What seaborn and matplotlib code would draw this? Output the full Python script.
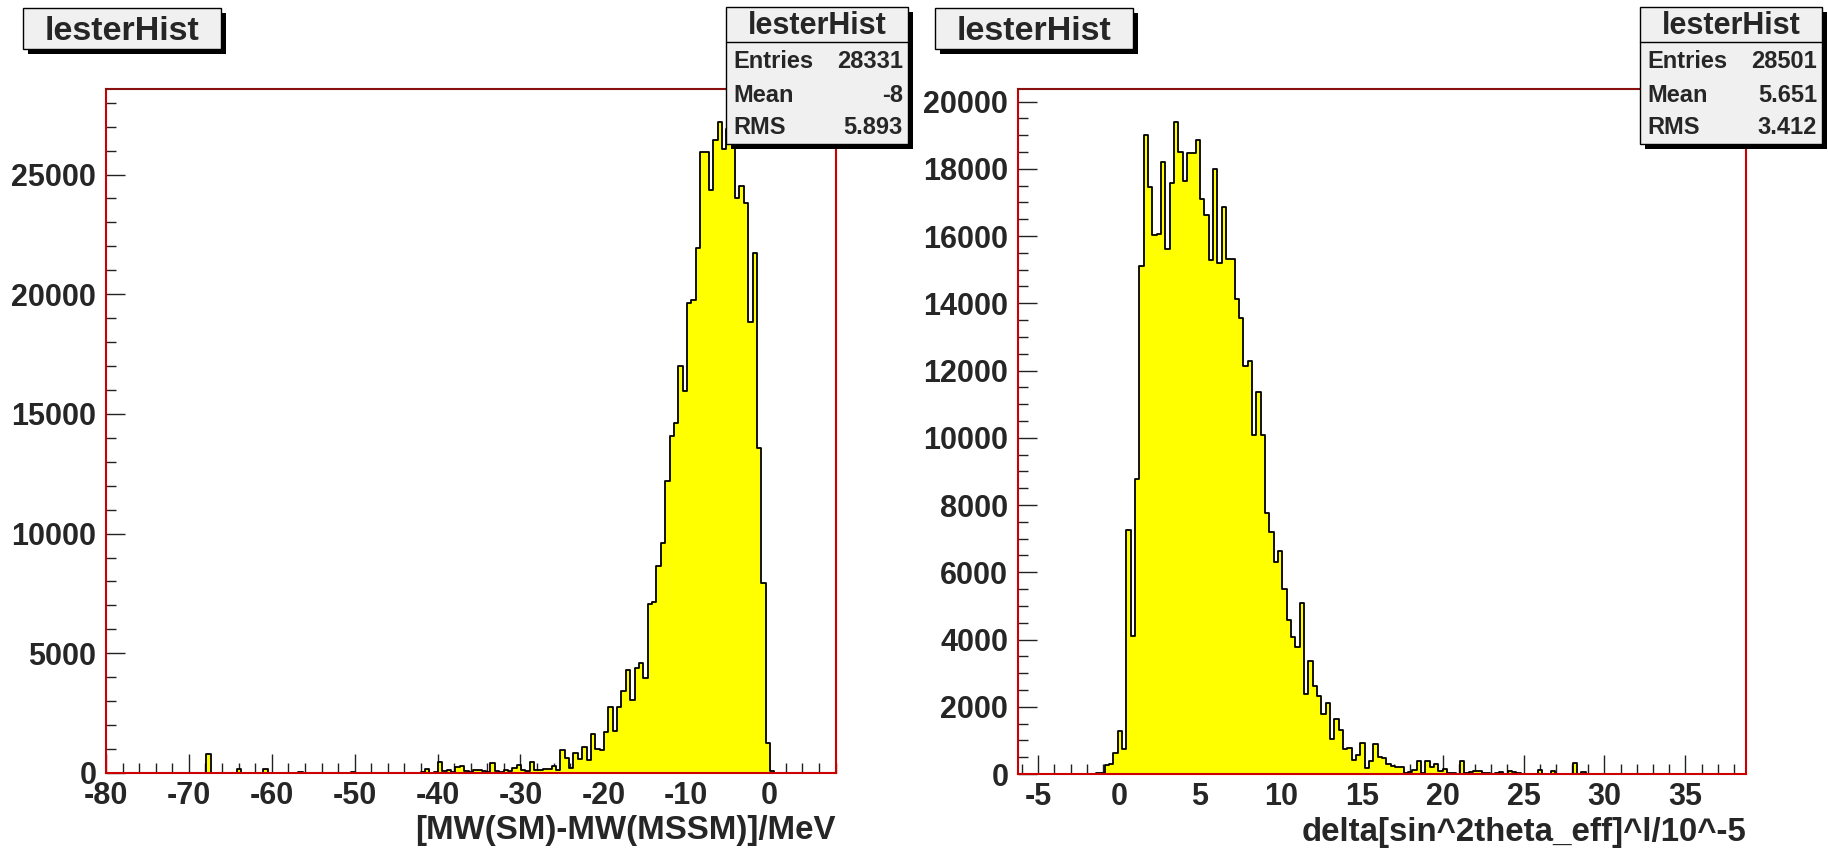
import numpy as np
import pandas as pd
import matplotlib
matplotlib.use("Agg")
import matplotlib.pyplot as plt
import seaborn as sns
from matplotlib.patches import Rectangle
from matplotlib.lines import Line2D
from matplotlib.ticker import MultipleLocator

# ---------------------------------------------------------------- data
# Histogram 1: [MW(SM)-MW(MSSM)]/MeV, 167 equal bins on [-80, 8]
mw_range = (-80.0, 8.0)
mw_counts = [
    0, 0, 0, 0, 0, 0, 0, 0, 0, 0,
    0, 0, 0, 0, 0, 0, 0, 0, 0, 0,
    0, 0, 0, 780, 0, 0, 0, 0, 0, 0,
    170, 0, 0, 0, 0, 0, 150, 0, 0, 0,
    0, 0, 0, 0, 60, 0, 0, 0, 0, 0,
    0, 0, 0, 0, 0, 20, 60, 0, 0, 0,
    0, 0, 15, 0, 0, 0, 0, 0, 0, 0,
    0, 0, 60, 150, 20, 30, 460, 67, 109, 25,
    250, 279, 67, 25, 139, 139, 84, 25, 418, 67,
    40, 109, 67, 209, 348, 139, 67, 460, 109, 109,
    153, 153, 306, 139, 961, 641, 196, 822, 585, 1073,
    543, 1617, 1003, 961, 1728, 2745, 1769, 2745, 3441, 4305,
    3051, 4376, 4611, 3958, 7064, 7161, 8666, 9627, 12206, 14058,
    14617, 16985, 15968, 19633, 19743, 21932, 25930, 25958, 24341, 26431,
    27212, 26083, 26900, 26500, 24022, 24537, 23813, 18839, 21723, 13572,
    7955, 1241, 84, 0, 0, 0, 0, 0, 0, 0,
    0, 0, 0, 0, 0, 0, 0,
]
mw_stats = [("Entries", "28331"), ("Mean", "-8"), ("RMS", "5.893")]
mw_xlabel = "[MW(SM)-MW(MSSM)]/MeV"

# Histogram 2: delta[sin^2theta_eff]^l/10^-5, 168 equal bins on [-6.25, 38.75]
s2w_range = (-6.25, 38.75)
s2w_counts = [
    0, 0, 0, 0, 0, 0, 0, 0, 0, 0,
    0, 0, 0, 0, 0, 0, 0, 0, 20, 40,
    268, 298, 615, 1290, 734, 7261, 4107, 8779, 15098, 19017,
    17450, 16030, 16070, 18193, 15614, 17578, 19404, 18511, 17628, 18481,
    18461, 18868, 17112, 16636, 15277, 17995, 15197, 16854, 15327, 15327,
    14136, 13551, 12122, 12271, 10089, 11348, 10089, 7777, 7202, 6300,
    6636, 5496, 4583, 4077, 3789, 5099, 2370, 3355, 2615, 2317,
    1790, 2100, 1032, 1622, 1305, 745, 760, 420, 575, 915,
    190, 380, 880, 520, 480, 310, 238, 208, 208, 30,
    60, 109, 400, 40, 380, 220, 290, 100, 140, 40,
    20, 0, 390, 20, 60, 80, 90, 40, 20, 0,
    20, 50, 0, 80, 70, 30, 0, 0, 0, 0,
    130, 0, 0, 90, 0, 0, 0, 0, 340, 0,
    50, 0, 0, 0, 0, 0, 0, 0, 0, 0,
    0, 0, 0, 0, 0, 0, 0, 0, 0, 0,
    0, 0, 0, 0, 0, 0, 0, 0, 0, 0,
    0, 0, 0, 0, 0, 0, 0, 0,
]
s2w_stats = [("Entries", "28501"), ("Mean", "5.651"), ("RMS", "3.412")]
s2w_xlabel = "delta[sin^2theta_eff]^l/10^-5"

hist_name = "lesterHist"

# ---------------------------------------------------------------- style
sns.set_theme(style="white")
plt.rcParams["font.family"] = ["Liberation Sans", "DejaVu Sans"]
plt.rcParams["font.weight"] = "bold"
plt.rcParams["axes.unicode_minus"] = False

W, H = 1828, 848
fig = plt.figure(figsize=(W / 100, H / 100), dpi=100)
fig.patch.set_facecolor("white")


def fx(x):
    return x / W


def fy(y):
    return 1 - y / H


FRAME_RED = "#cc0000"
BOX_FILL = "#f0f0f0"


def draw_hist(ax, rng, counts, xlabel, xmajor, xminor, ymajor, yminor):
    counts = np.asarray(counts, dtype=float)
    edges = np.linspace(rng[0], rng[1], len(counts) + 1)
    centers = 0.5 * (edges[:-1] + edges[1:])
    df = pd.DataFrame({"x": centers, "w": counts})
    sns.histplot(data=df, x="x", weights="w", bins=edges.tolist(),
                 element="step", fill=True, color="#ffff00", alpha=1,
                 edgecolor="black", linewidth=1.3, ax=ax)
    ax.set_xlim(rng)
    ax.set_ylim(0, 1.05 * counts.max())
    ax.set_ylabel("")
    ax.set_xlabel(xlabel, loc="right", fontsize=23.8, fontweight="bold",
                  labelpad=3)
    ax.xaxis.set_major_locator(MultipleLocator(xmajor))
    ax.xaxis.set_minor_locator(MultipleLocator(xminor))
    ax.yaxis.set_major_locator(MultipleLocator(ymajor))
    ax.yaxis.set_minor_locator(MultipleLocator(yminor))
    ax.tick_params(axis="both", which="major", direction="in", length=14,
                   width=1.0, color="#222222", labelsize=22)
    ax.tick_params(axis="both", which="minor", direction="in", length=7,
                   width=1.0, color="#222222")
    ax.tick_params(axis="x", which="major", pad=6)
    ax.tick_params(axis="y", which="major", pad=7)
    ax.tick_params(top=False, right=False, which="both")
    ax.tick_params(bottom=True, left=True, which="both")
    for lab in ax.get_xticklabels() + ax.get_yticklabels():
        lab.set_fontweight("bold")
    for s in ax.spines.values():
        s.set_color(FRAME_RED)
        s.set_linewidth(1.5)
    ax.spines["top"].set_color("#8a1010")
    ax.grid(False)
    ax.set_facecolor("white")


def draw_box(x0, y0, x1, y1, shadow=5):
    fig.add_artist(Rectangle((fx(x0 + shadow), fy(y1 + shadow)),
                             fx(x1 - x0), fy(y0) - fy(y1),
                             transform=fig.transFigure, facecolor="black",
                             edgecolor="none", zorder=5))
    fig.add_artist(Rectangle((fx(x0), fy(y1)), fx(x1 - x0), fy(y0) - fy(y1),
                             transform=fig.transFigure, facecolor=BOX_FILL,
                             edgecolor="black", linewidth=1.0, zorder=6))


def draw_title(x0, y0, x1, y1, text):
    draw_box(x0, y0, x1, y1)
    fig.text(fx((x0 + x1) / 2), fy((y0 + y1) / 2 + 3), text, ha="center",
             va="center", fontsize=24.5, fontweight="bold", zorder=7)


def draw_stats(x0, y0, x1, y1, name, rows, sep_y, row_y):
    draw_box(x0, y0, x1, y1)
    fig.add_artist(Line2D([fx(x0), fx(x1)], [fy(sep_y), fy(sep_y)],
                          transform=fig.transFigure, color="black",
                          linewidth=1.0, zorder=7))
    fig.text(fx((x0 + x1) / 2), fy((y0 + sep_y) / 2 + 2), name,
             ha="center", va="center", fontsize=22, fontweight="bold",
             zorder=7)
    for (label, value), yy in zip(rows, row_y):
        fig.text(fx(x0 + 7), fy(yy), label, ha="left", va="center",
                 fontsize=17, fontweight="bold", zorder=7)
        fig.text(fx(x1 - 5), fy(yy), value, ha="right", va="center",
                 fontsize=17, fontweight="bold", zorder=7)


# ---------------------------------------------------------------- panels
ax1 = fig.add_axes([fx(106), fy(773), fx(835.5) - fx(106), fy(89) - fy(773)])
draw_hist(ax1, mw_range, mw_counts, mw_xlabel, 10, 2, 5000, 1000)

ax2 = fig.add_axes([fx(1018), fy(774), fx(1746) - fx(1018), fy(89) - fy(774)])
draw_hist(ax2, s2w_range, s2w_counts, s2w_xlabel, 5, 1, 2000, 500)

draw_title(23, 8, 221, 49, hist_name)
draw_title(935, 8, 1133, 49, hist_name)

draw_stats(726, 7, 908, 144, hist_name, mw_stats, 42, [62, 96, 128])
draw_stats(1640, 7, 1822, 144, hist_name, s2w_stats, 42, [62, 96, 128])

fig.savefig("out.png", dpi=100, facecolor="white")
